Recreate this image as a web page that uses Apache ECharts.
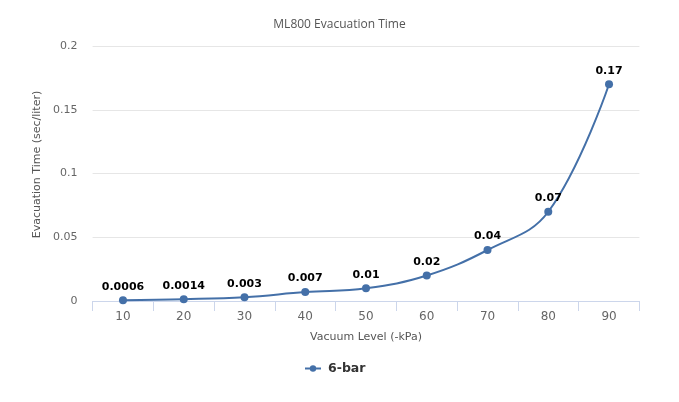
<!DOCTYPE html>
<html><head><meta charset="utf-8">
<script src="https://cdn.jsdelivr.net/npm/echarts@6/dist/echarts.min.js"></script>
<style>html,body{margin:0;padding:0;background:#fff}#c{width:679px;height:402px}</style>
</head><body><div id="c"></div>
<script>
var categories = ['10','20','30','40','50','60','70','80','90'];
var values = [0.0006, 0.0014, 0.003, 0.007, 0.01, 0.02, 0.04, 0.07, 0.17];
var seriesName = '6-bar';
var TFONT = '"Open Sans", sans-serif';
var FONT = '"DejaVu Sans", Verdana, sans-serif';
var chart = echarts.init(document.getElementById('c'));
chart.setOption({
  animation: false,
  textStyle: {fontFamily: FONT},
  title: {text: 'ML800 Evacuation Time', left: 'center', top: 14,
    textStyle: {fontSize: 12, fontWeight: 'normal', color: '#555', fontFamily: TFONT}},
  legend: {bottom: 22, left: 299, itemWidth: 16, itemHeight: 8, itemGap: 10,
    textStyle: {fontSize: 12.5, fontWeight: 'bold', color: '#333', fontFamily: FONT, padding: [0, 0, 0, 2]},
    data: [seriesName]},
  grid: {left: 92.6, right: 39.6, top: 46, bottom: 101},
  xAxis: {type: 'category', data: categories, boundaryGap: true,
    name: 'Vacuum Level (-kPa)', nameLocation: 'middle', nameGap: 31,
    nameTextStyle: {fontSize: 11, color: '#555', fontFamily: FONT},
    axisLine: {lineStyle: {color: '#ccd6eb'}},
    axisTick: {show: true, length: 10, alignWithLabel: false, lineStyle: {color: '#ccd6eb'}},
    axisLabel: {fontSize: 12, color: '#666', margin: 10, fontFamily: FONT}},
  yAxis: {type: 'value', min: 0, max: 0.2, interval: 0.05,
    name: 'Evacuation Time (sec/liter)', nameLocation: 'middle', nameGap: 49,
    nameTextStyle: {fontSize: 11, color: '#555', fontFamily: FONT, padding: [0, 0, 0, 18]},
    axisLine: {show: false}, axisTick: {show: false},
    axisLabel: {fontSize: 11, color: '#666', margin: 15, fontFamily: FONT},
    splitLine: {lineStyle: {color: '#e6e6e6'}}},
  series: [{name: seriesName, type: 'line', data: values, smooth: 0.4,
    symbol: 'circle', symbolSize: 8,
    itemStyle: {color: '#4470a8'}, lineStyle: {width: 2, color: '#4470a8'},
    label: {show: true, position: 'top', distance: 4, fontSize: 11, fontWeight: 'bold', color: '#000', fontFamily: FONT}}]
});
</script></body></html>
